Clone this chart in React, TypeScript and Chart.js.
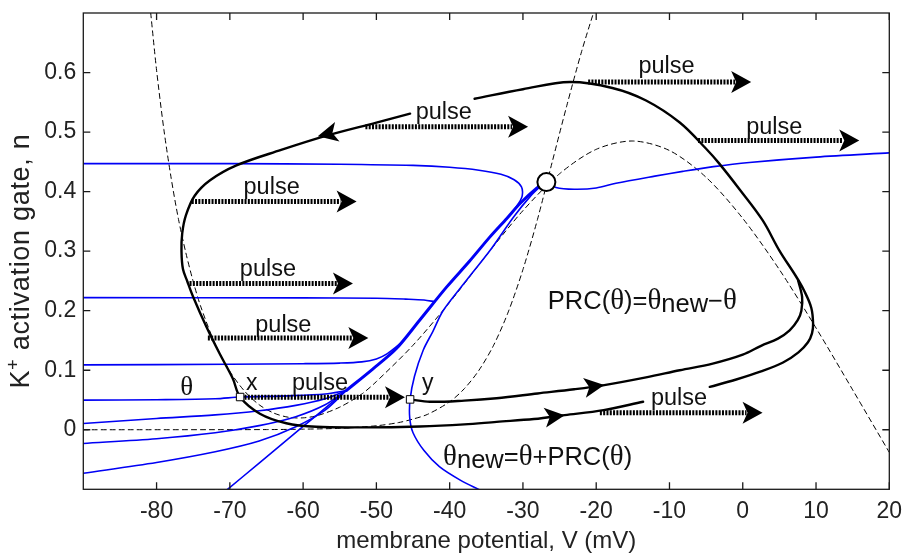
import React, { useEffect, useRef } from 'react';
import { Chart, registerables } from 'chart.js';

Chart.register(...registerables);

type Pt = [number, number];

// ---------------- axes ----------------
const xTickValues = [-80, -70, -60, -50, -40, -30, -20, -10, 0, 10, 20];
const yTickValues = [0, 0.1, 0.2, 0.3, 0.4, 0.5, 0.6];
const xMin = -90, xMax = 20, yMin = -0.1, yMax = 0.7;

// ---------------- nullclines (dashed) ----------------
const vNullcline: Pt[] = [
  [-80.8, 0.70], [-80, 0.604], [-79, 0.504], [-78, 0.422], [-77, 0.353], [-76, 0.297],
  [-75, 0.249], [-74, 0.208], [-72, 0.144], [-70, 0.098], [-68, 0.065], [-66, 0.042],
  [-64, 0.028], [-62, 0.021], [-60, 0.020], [-58, 0.024], [-55, 0.038], [-52, 0.060],
  [-50, 0.081], [-45, 0.142], [-40, 0.214], [-35, 0.293], [-30, 0.368], [-25, 0.430],
  [-20, 0.471], [-15, 0.485], [-10, 0.469], [-5, 0.424], [0, 0.355], [5, 0.269],
  [10, 0.171], [15, 0.067], [20, -0.038],
];
const nNullcline: Pt[] = [
  [-90, 0], [-65, 0.0003], [-60, 0.001], [-55, 0.0025], [-50, 0.0067], [-47, 0.012],
  [-45, 0.018], [-43, 0.026], [-40, 0.047], [-38, 0.069], [-36, 0.100], [-34, 0.142],
  [-32, 0.198], [-30, 0.269], [-28, 0.354], [-26, 0.450], [-24, 0.545], [-22, 0.635],
  [-20, 0.715],
];

// ---------------- limit cycle & perturbed trajectory (black) ----------------
const limitCycleRightTop: Pt[] = [
  [-4.5, 0.072], [-1, 0.084], [2.5, 0.098], [5.5, 0.113], [7.6, 0.13], [8.9, 0.147],
  [9.45, 0.162], [9.6, 0.178], [9.35, 0.205], [8.4, 0.233], [7.3, 0.257], [5.0, 0.301],
  [2.7, 0.352], [-0.45, 0.404], [-3.2, 0.447], [-5.0, 0.472], [-8.6, 0.516],
  [-13.2, 0.553], [-17.8, 0.574], [-23.6, 0.584], [-30, 0.572], [-36.6, 0.556],
];
const limitCycleLeftBottom: Pt[] = [
  [-45.4, 0.531], [-50, 0.516], [-56.8, 0.494], [-63, 0.47], [-69.1, 0.444],
  [-72.7, 0.419], [-74.8, 0.393], [-76.0, 0.36], [-76.5, 0.33], [-76.6, 0.3],
  [-76.4, 0.27], [-75.8, 0.249], [-75.0, 0.223], [-73.2, 0.173], [-71.4, 0.128],
  [-69.6, 0.086], [-68.6, 0.055], [-65.9, 0.027], [-62.3, 0.011], [-58.2, 0.005],
  [-52, 0.004], [-44.1, 0.0055], [-38, 0.009], [-33.6, 0.0133], [-28.5, 0.018],
  [-24.3, 0.0245], [-19, 0.033], [-13.6, 0.047],
];
const perturbedTrajectory: Pt[] = [
  [-45.4, 0.051], [-42.7, 0.047], [-38, 0.049], [-33.6, 0.053], [-28, 0.061],
  [-23, 0.068], [-18.9, 0.075], [-13.2, 0.088], [-8.6, 0.1], [-4.1, 0.111],
  [0, 0.126], [2.5, 0.141], [4.8, 0.153], [6.4, 0.167], [7.5, 0.184], [8.0, 0.2],
  [8.1, 0.223], [7.55, 0.251],
];

// ---------------- isochrons (blue) ----------------
const isoTop: Pt[] = [
  [-90, 0.447], [-70, 0.447], [-55, 0.446], [-45, 0.444], [-40, 0.441], [-36, 0.436],
  [-33, 0.429], [-31.2, 0.42], [-30.2, 0.408], [-30.1, 0.393], [-30.6, 0.38], [-31.3, 0.368],
];
const iso022: Pt[] = [
  [-90, 0.222], [-60, 0.2215], [-50, 0.221], [-46, 0.2195], [-43.5, 0.218], [-42.05, 0.215],
];
const iso011: Pt[] = [
  [-90, 0.109], [-70, 0.110], [-60, 0.111], [-55, 0.112], [-52, 0.114], [-50, 0.119],
  [-48.5, 0.128], [-46.7, 0.145],
];
const isoX: Pt[] = [
  [-90, 0.0497], [-80, 0.0505], [-72, 0.052], [-68.6, 0.055], [-62, 0.057], [-57, 0.06], [-54.1, 0.066],
];
const iso5: Pt[] = [
  [-90, 0.0106], [-80, 0.019], [-72, 0.025], [-66, 0.032], [-61, 0.041], [-57, 0.052], [-54.1, 0.066],
];
const iso6: Pt[] = [
  [-90, -0.023], [-80, -0.015], [-72, -0.005], [-66, 0.007], [-61, 0.022], [-57, 0.042], [-54.1, 0.066],
];
const iso7: Pt[] = [
  [-90, -0.073], [-80, -0.055], [-72, -0.037], [-66, -0.019], [-61, 0.005], [-57, 0.033], [-54.1, 0.066],
];
const isoDiag: Pt[] = [
  [-70.4, -0.101], [-66, -0.056], [-62, -0.015], [-58, 0.026], [-54.1, 0.066],
];
const isoBundle: Pt[] = [
  [-54.1, 0.066], [-50.5, 0.102], [-47.3, 0.136], [-44.1, 0.184], [-40.4, 0.24],
  [-37.3, 0.283], [-34.5, 0.324], [-32.2, 0.355], [-30.4, 0.38], [-28.2, 0.405], [-26.8, 0.416],
];
const isoY: Pt[] = [
  [-35.9, -0.101], [-38.5, -0.085], [-41.4, -0.062], [-43.5, -0.035], [-45.0, -0.005],
  [-45.45, 0.02], [-45.4, 0.051], [-44.8, 0.09], [-43.6, 0.134], [-42.3, 0.165],
  [-40.9, 0.2], [-37.7, 0.251], [-34.5, 0.301], [-31.3, 0.357], [-29.0, 0.392],
  [-27.5, 0.41], [-26.8, 0.416],
];
const isoRight: Pt[] = [
  [-26.8, 0.416], [-25.5, 0.407], [-23, 0.404], [-20, 0.406], [-17.3, 0.414], [-12, 0.426],
  [-8.2, 0.434], [-4, 0.442], [0.9, 0.449], [10, 0.458], [20, 0.465],
];

// ---------------- markers ----------------
const equilibrium: Pt[] = [[-26.8, 0.416]];
const phasePoints: Pt[] = [[-68.6, 0.055], [-45.4, 0.051]];

// ---------------- pulses ----------------
const pulseStartV = [-51.5, -21.1, -6.1, -75.2, -75.5, -73.0, -68.0, -19.5];
const pulseEndV = [-29.3, 1.15, 15.9, -52.7, -53.2, -51.1, -46.1, 2.7];
const pulseN = [0.509, 0.584, 0.486, 0.3836, 0.2455, 0.154, 0.0547, 0.0284];
const pulseLabelV = [-40.8, -10.4, 4.3, -64.3, -64.8, -62.7, -57.7, -8.7];
const pulseLabelN = [0.522, 0.599, 0.497, 0.396, 0.259, 0.164, 0.066, 0.041];

// ---------------- flow arrows on trajectories ----------------
const arrowTips: Pt[] = [[-58, 0.493], [-24.3, 0.0245], [-18.9, 0.075]];
const arrowTails: Pt[] = [[-53, 0.507], [-28.5, 0.018], [-23, 0.068]];

// ---------------- annotations ----------------
const pointLabels = ['θ', 'x', 'y'];
const pointLabelV = [-75.9, -67.0, -43.0];
const pointLabelN = [0.058, 0.0664, 0.066];
const prcLabelAt: Pt = [-26.6, 0.2035];
const newPhaseLabelAt: Pt = [-40.9, -0.059];

const SANS = '"Liberation Sans", Arial, Helvetica, sans-serif';
const SERIF = '"Liberation Serif", "Times New Roman", serif';
const BLUE = 'rgb(0,0,245)';

type Run = { t: string; f: string; dy?: number };

function drawRuns(ctx: CanvasRenderingContext2D, runs: Run[], x: number, y: number, center: boolean) {
  let total = 0;
  runs.forEach((r) => { ctx.font = r.f; total += ctx.measureText(r.t).width; });
  let cx = center ? x - total / 2 : x;
  ctx.textAlign = 'left';
  runs.forEach((r) => {
    ctx.font = r.f;
    ctx.fillText(r.t, cx, y + (r.dy || 0));
    cx += ctx.measureText(r.t).width;
  });
}

function drawHead(ctx: CanvasRenderingContext2D, tx: number, ty: number, ang: number, len: number, hw: number, notch: number) {
  ctx.save();
  ctx.translate(tx, ty);
  ctx.rotate(ang);
  ctx.beginPath();
  ctx.moveTo(0, 0);
  ctx.lineTo(-len, -hw);
  ctx.lineTo(-len + notch, 0);
  ctx.lineTo(-len, hw);
  ctx.closePath();
  ctx.fillStyle = '#000';
  ctx.fill();
  ctx.restore();
}

const decorPlugin = {
  id: 'decor',
  afterDatasetsDraw(chart: any) {
    const ctx: CanvasRenderingContext2D = chart.ctx;
    const xs = chart.scales.x, ys = chart.scales.y;
    const px = (v: number) => xs.getPixelForValue(v);
    const py = (n: number) => ys.getPixelForValue(n);
    ctx.save();
    arrowTips.forEach((tip, i) => {
      const tx = px(tip[0]), ty = py(tip[1]);
      const bx = px(arrowTails[i][0]), by = py(arrowTails[i][1]);
      drawHead(ctx, tx, ty, Math.atan2(ty - by, tx - bx), 20, 10, 5);
    });
    pulseN.forEach((n, i) => {
      const y = py(n), x0 = px(pulseStartV[i]), x1 = px(pulseEndV[i]);
      ctx.save();
      ctx.strokeStyle = '#000';
      ctx.lineWidth = 5;
      ctx.lineCap = 'butt';
      ctx.setLineDash([2, 1.3]);
      ctx.beginPath();
      ctx.moveTo(x0, y);
      ctx.lineTo(x1 - 16, y);
      ctx.stroke();
      ctx.restore();
      drawHead(ctx, x1, y, 0, 20, 11, 5);
      ctx.fillStyle = '#111';
      ctx.font = `23.5px ${SANS}`;
      ctx.textAlign = 'center';
      ctx.textBaseline = 'alphabetic';
      ctx.fillText('pulse', px(pulseLabelV[i]), py(pulseLabelN[i]));
    });
    ctx.fillStyle = '#111';
    ctx.textBaseline = 'alphabetic';
    pointLabels.forEach((t, i) => {
      ctx.font = t === 'θ' ? `27px ${SERIF}` : `23px ${SANS}`;
      ctx.textAlign = 'center';
      ctx.fillText(t, px(pointLabelV[i]), py(pointLabelN[i]));
    });
    const S = `25.5px ${SANS}`, G = `29px ${SERIF}`;
    drawRuns(ctx, [
      { t: 'PRC(', f: S }, { t: 'θ', f: G }, { t: ')=', f: S }, { t: 'θ', f: G },
      { t: 'new', f: S, dy: 3 }, { t: '−', f: S }, { t: 'θ', f: G },
    ], px(prcLabelAt[0]), py(prcLabelAt[1]), false);
    drawRuns(ctx, [
      { t: 'θ', f: G }, { t: 'new', f: S, dy: 3 }, { t: '=', f: S }, { t: 'θ', f: G },
      { t: '+PRC(', f: S }, { t: 'θ', f: G }, { t: ')', f: S },
    ], px(newPhaseLabelAt[0]), py(newPhaseLabelAt[1]), false);
    ctx.restore();
  },
  afterDraw(chart: any) {
    const ctx: CanvasRenderingContext2D = chart.ctx;
    const { left, right, top, bottom } = chart.chartArea;
    const xs = chart.scales.x, ys = chart.scales.y;
    ctx.save();
    ctx.strokeStyle = '#1a1a1a';
    ctx.lineWidth = 1.3;
    ctx.strokeRect(left, top, right - left, bottom - top);
    const L = 7;
    ctx.beginPath();
    xTickValues.forEach((v) => {
      const x = xs.getPixelForValue(v);
      ctx.moveTo(x, bottom); ctx.lineTo(x, bottom - L);
      ctx.moveTo(x, top); ctx.lineTo(x, top + L);
    });
    yTickValues.forEach((n) => {
      const y = ys.getPixelForValue(n);
      ctx.moveTo(left, y); ctx.lineTo(left + L, y);
      ctx.moveTo(right, y); ctx.lineTo(right - L, y);
    });
    ctx.stroke();
    ctx.translate(28.5, 261);
    ctx.rotate(-Math.PI / 2);
    ctx.fillStyle = '#222';
    ctx.textBaseline = 'alphabetic';
    try { (ctx as any).letterSpacing = '0.7px'; } catch (e) { /* ignore */ }
    drawRuns(ctx, [
      { t: 'K', f: `27px ${SANS}` }, { t: '+', f: `18px ${SANS}`, dy: -10 },
      { t: ' activation gate, n', f: `27px ${SANS}` },
    ], 0, 0, true);
    try { (ctx as any).letterSpacing = '0px'; } catch (e) { /* ignore */ }
    ctx.restore();
  },
};

const toXY = (pts: Pt[]) => pts.map(([x, y]) => ({ x, y }));

function lineSet(pts: Pt[], color: string, width: number, order: number, dash: number[] = [], tension = 0.35) {
  return {
    data: toXY(pts),
    showLine: true,
    borderColor: color,
    backgroundColor: color,
    borderWidth: width,
    borderDash: dash,
    pointRadius: 0,
    pointHoverRadius: 0,
    tension,
    fill: false,
    order,
    borderCapStyle: 'round',
    borderJoinStyle: 'round',
  };
}

const zeroPad = (s: any) => { s.paddingTop = 0; s.paddingBottom = 0; s.paddingLeft = 0; s.paddingRight = 0; };

export default function App() {
  const ref = useRef<HTMLCanvasElement | null>(null);
  useEffect(() => {
    if (!ref.current) return;
    const datasets: any[] = [
      lineSet(vNullcline, '#000', 1, 5, [5, 4], 0.3),
      lineSet(nNullcline, '#000', 1, 5, [5, 4], 0.3),
      lineSet(isoTop, BLUE, 1.6, 3, [], 0.3),
      lineSet(iso022, BLUE, 1.6, 3, [], 0.3),
      lineSet(iso011, BLUE, 1.6, 3, [], 0.3),
      lineSet(isoX, BLUE, 1.6, 3, [], 0.3),
      lineSet(iso5, BLUE, 1.6, 3, [], 0.3),
      lineSet(iso6, BLUE, 1.6, 3, [], 0.3),
      lineSet(iso7, BLUE, 1.6, 3, [], 0.3),
      lineSet(isoDiag, BLUE, 1.6, 3, [], 0.3),
      lineSet(isoBundle, BLUE, 3, 3, [], 0.3),
      lineSet(isoY, BLUE, 1.6, 3, [], 0.3),
      lineSet(isoRight, BLUE, 1.6, 3, [], 0.3),
      lineSet(limitCycleRightTop, '#000', 2.4, 1, [], 0.35),
      lineSet(limitCycleLeftBottom, '#000', 2.4, 1, [], 0.35),
      lineSet(perturbedTrajectory, '#000', 2.4, 1, [], 0.35),
      {
        data: toXY(equilibrium), showLine: false, pointRadius: 9, pointStyle: 'circle',
        pointBackgroundColor: '#fff', pointBorderColor: '#000', pointBorderWidth: 2, order: 0,
      },
      {
        data: toXY(phasePoints), showLine: false, pointRadius: 5.3, pointStyle: 'rect',
        pointBackgroundColor: '#fff', pointBorderColor: '#000', pointBorderWidth: 1, order: 0,
      },
    ];
    const chart = new Chart(ref.current, {
      type: 'scatter',
      data: { datasets },
      plugins: [decorPlugin],
      options: {
        animation: false,
        responsive: false,
        devicePixelRatio: 1,
        events: [],
        layout: { padding: { top: 13, right: 12.7, left: 0, bottom: 0 } },
        plugins: { legend: { display: false }, tooltip: { enabled: false } },
        scales: {
          x: {
            type: 'linear', min: xMin, max: xMax,
            grid: { display: false, drawTicks: false },
            border: { display: false },
            ticks: {
              padding: 9, color: '#222', font: { family: SANS, size: 23 },
              maxRotation: 0, autoSkip: false, callback: (v: any) => String(v),
            },
            afterBuildTicks: (s: any) => { s.ticks = xTickValues.map((value) => ({ value })); },
            afterFit: (s: any) => { s.height = 65.7; zeroPad(s); },
            title: {
              display: true, text: 'membrane potential, V (mV)', color: '#222',
              font: { family: SANS, size: 24, lineHeight: 1 }, padding: { top: 0, bottom: 1.5 },
            },
          },
          y: {
            type: 'linear', min: yMin, max: yMax,
            grid: { display: false, drawTicks: false },
            border: { display: false },
            ticks: {
              padding: 7, color: '#222', font: { family: SANS, size: 23 },
              autoSkip: false, callback: (v: any) => String(v),
            },
            afterBuildTicks: (s: any) => { s.ticks = yTickValues.map((value) => ({ value })); },
            afterFit: (s: any) => { s.width = 83.3; zeroPad(s); },
          },
        },
      } as any,
    });
    return () => chart.destroy();
  }, []);
  return (
    <div style={{ position: 'absolute', left: 0, top: 0, width: 902, height: 555, background: '#fff' }}>
      <canvas ref={ref} width={902} height={555} />
    </div>
  );
}
